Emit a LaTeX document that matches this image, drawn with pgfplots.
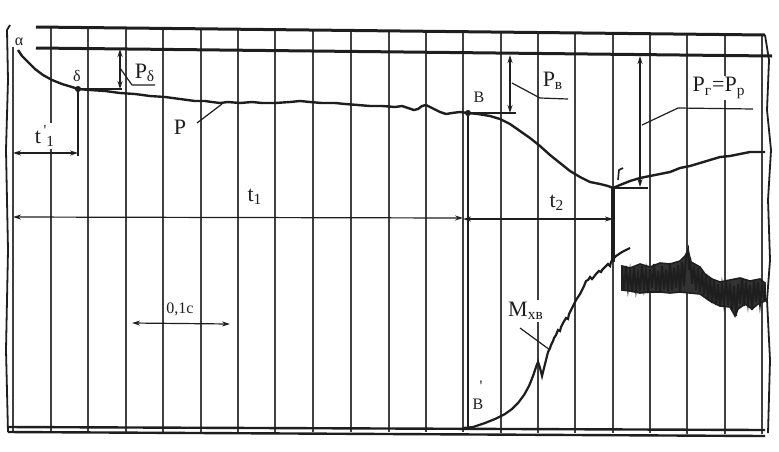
\documentclass[border=0pt]{standalone}
\usepackage{pgfplots}
\pgfplotsset{compat=1.18}
\usepackage{fontspec}
\setmainfont{Liberation Serif}
\usetikzlibrary{arrows.meta}

\definecolor{ink}{HTML}{1E1E1E}

\begin{document}
\begin{tikzpicture}[
    lbl/.style={font=\fontsize{11}{12}\selectfont, fill=white, inner sep=1pt, text=ink},
    sml/.style={font=\fontsize{8}{9}\selectfont, fill=white, inner sep=0.8pt, text=ink},
    dim/.style={line width=0.6pt, {Stealth[length=4pt,width=2.5pt]}-{Stealth[length=4pt,width=2.5pt]}},
]
\begin{axis}[
    scale only axis,
    width=389.5pt, height=225.5pt,
    xmin=0, xmax=779, ymin=0, ymax=451,
    y dir=reverse,
    hide axis,
    clip=false,
    unbounded coords=jump,
    every axis plot/.append style={ink, no markers},
]
% page extent
\addplot[draw=none] coordinates {(0,0) (779,451)};

% vertical time marks
\addplot[line width=1.1pt, black!75] table[row sep=\\] {
x y\\
13 47\\ 13 432\\ nan nan\\
51 27\\ 51 432\\ nan nan\\
88 28\\ 88 432\\ nan nan\\
126 28\\ 126 432\\ nan nan\\
163 28\\ 163 432\\ nan nan\\
201 29\\ 201 432\\ nan nan\\
238 29\\ 238 432\\ nan nan\\
275 30\\ 275 432\\ nan nan\\
313 30\\ 313 432\\ nan nan\\
351 30\\ 351 432\\ nan nan\\
389 31\\ 389 432\\ nan nan\\
426 31\\ 426 432\\ nan nan\\
463 32\\ 463 432\\ nan nan\\
501 32\\ 501 433\\ nan nan\\
538 32\\ 538 433\\ nan nan\\
575 33\\ 575 433\\ nan nan\\
613 33\\ 613 433\\ nan nan\\
650 34\\ 650 433\\ nan nan\\
687 34\\ 687 434\\ nan nan\\
725 35\\ 725 434\\ nan nan\\
762 35\\ 762 434\\
};
% line from point B down to B'
\addplot[line width=0.9pt] coordinates {(468,113) (468,430)};
\addplot[line width=1.6pt] coordinates {(613,187) (613,262)};

% frame lines
\addplot[line width=1.5pt] coordinates {(36,27) (765,35)};
\addplot[line width=1.5pt] coordinates {(36,48) (772,56)};
\addplot[line width=1.2pt] coordinates {(8,427) (765,430)};
\addplot[line width=1.2pt] coordinates {(8,432) (765,436)};
\addplot[line width=0.9pt] coordinates {(10,25) (7,30) (8,80) (6,150) (8,250) (6,350) (8,432)};
\addplot[line width=0.9pt] coordinates {(765,35) (769,60) (767,110) (771,150) (768,200) (770,260) (767,300) (770,360) (768,433)};

% pressure trace P
\addplot[line width=1.2pt] coordinates {
(18,50) (22,56) (28,62) (35,69) (43,75) (52,80) (62,84) (72,87) (78,89)
(90,90) (105,91) (120,93) (135,94) (150,96) (165,97) (180,99) (195,101)
(205,101) (212,102) (220,103) (228,102) (240,103) (252,102) (262,103)
(275,103) (290,102) (300,101) (310,102) (322,103) (335,103) (345,104)
(358,105) (370,106) (382,106) (395,107) (402,106) (408,108) (414,110)
(418,109) (422,106) (426,105) (432,108) (440,112) (446,114) (452,113)
(460,112) (468,113) (478,114) (490,116) (500,119) (510,124) (520,131)
(530,138) (540,146) (550,155) (560,163) (570,171) (580,177) (590,182)
(600,184) (608,186) (613,188) (620,185) (630,181) (640,178) (650,176)
(660,174) (670,172) (680,168) (690,166) (700,163) (710,160) (720,157)
(730,156) (740,154) (750,152) (760,152) (765,152)
};
% small hook near the minimum
\addplot[line width=0.8pt] coordinates {(618,180) (619,170) (623,168)};

% torque trace M
\addplot[line width=1.1pt] coordinates {
(463,428) (473,427) (485,423) (495,419) (505,414) (512,409) (518,403)
(524,395) (529,386) (533,376) (536,367) (538,362) (540,368) (542,376)
(544,368) (546,360) (548,352) (550,348) (551,345) (553,341) (554,338)
(556,335) (558,330) (560,331) (561,327) (563,323) (566,318) (568,319)
(569,314) (571,310) (573,306) (576,300) (578,297) (580,294) (582,290)
(584,286) (586,281) (588,280) (590,277) (592,279) (593,278) (596,274)
(599,271) (601,272) (602,270) (605,267) (608,264) (610,266) (611,262)
(613,259) (616,256) (619,254) (622,252) (626,250) (630,248)
};
% dense oscillation band of M
\addplot[fill=black!80, draw=ink, line width=0.8pt] coordinates {
(622,266) (630,268) (640,264) (650,267) (660,263) (670,264) (680,261)
(685,256) (688,250) (691,262) (700,267) (705,274) (712,279) (720,282)
(730,280) (740,278) (750,281) (760,279) (765,283)
(765,301) (758,304) (752,309) (745,304) (738,309) (735,316) (730,307)
(720,306) (710,301) (700,294) (690,293) (680,292) (670,293) (660,292)
(650,292) (640,293) (630,291) (622,290)
} -- cycle;
\addplot[line width=1pt] coordinates {
(622,270) (624,290) (626,266) (628,288) (630,272) (632,292) (634,268)
(636,289) (638,274) (640,291) (642,266) (644,287) (646,272) (648,293)
(650,269) (652,288) (654,264) (656,290) (658,271) (660,292) (662,266)
(664,289) (666,270) (668,291) (670,263) (672,290) (674,268) (676,288)
(678,265) (680,292) (682,262) (684,286) (686,256) (688,250) (689,270)
(690,258) (692,284) (694,266) (696,290) (698,268) (700,292) (702,272)
(704,295) (706,274) (708,300) (710,278) (712,303) (714,280) (716,305)
(718,284) (720,306) (722,286) (724,303) (726,280) (728,305) (730,283)
(732,310) (734,286) (736,316) (738,284) (740,304) (742,278) (744,306)
(746,282) (748,303) (750,285) (752,310) (754,280) (756,302) (758,282)
(760,304) (762,286) (764,300)
};

% point marks
\addplot[only marks, mark=*, mark size=1.3pt, ink] coordinates {(78,89) (468,113)};

% dimension lines and leaders
\addplot[line width=0.7pt] coordinates {(78,89) (78,156)};
\addplot[dim] coordinates {(13,153) (78,153)};
\addplot[line width=0.7pt] coordinates {(78,89) (122,89)};
\addplot[dim] coordinates {(120,49) (120,89)};
\addplot[line width=0.6pt] coordinates {(120,68) (132,85) (155,85)};
\addplot[line width=0.6pt] coordinates {(197,123) (222,104)};
\addplot[dim] coordinates {(13,217) (463,218)};
\addplot[dim] coordinates {(463,219) (613,219)};
\addplot[dim] coordinates {(132,323) (230,324)};
\addplot[line width=0.7pt] coordinates {(468,113) (516,113)};
\addplot[dim] coordinates {(510,55) (510,113)};
\addplot[line width=0.6pt] coordinates {(512,83) (540,98) (568,99)};
\addplot[line width=0.7pt] coordinates {(613,188) (648,188)};
\addplot[dim] coordinates {(640,56) (640,187)};
\addplot[line width=0.6pt] coordinates {(642,125) (678,108) (753,109)};
\addplot[line width=0.6pt] coordinates {(520,328) (550,350)};

% labels
\node[sml] at (axis cs:19,42) {α};
\node[sml] at (axis cs:77,76) {δ};
\node[lbl] at (axis cs:145,73) {P\textsubscript{δ}};
\node[lbl] at (axis cs:180,127) {P};
\node[lbl] at (axis cs:45,136) {t\textsuperscript{\,\textquotesingle}\kern-0.5pt\textsubscript{1}};
\node[lbl] at (axis cs:255,197) {t\textsubscript{1}};
\node[lbl] at (axis cs:557,203) {t\textsubscript{2}};
\node[sml] at (axis cs:180,309) {0,1с};
\node[sml] at (axis cs:479,97) {В};
\node[lbl] at (axis cs:553,81) {P\textsubscript{в}};
\node[lbl] at (axis cs:719,88) {P\textsubscript{г}=P\textsubscript{р}};
\node[lbl] at (axis cs:526,311) {M\textsubscript{хв}};
\node[sml] at (axis cs:478,404) {В};
\node[sml, fill=none] at (axis cs:481,386) {\textquotesingle};
\end{axis}
\end{tikzpicture}
\end{document}
